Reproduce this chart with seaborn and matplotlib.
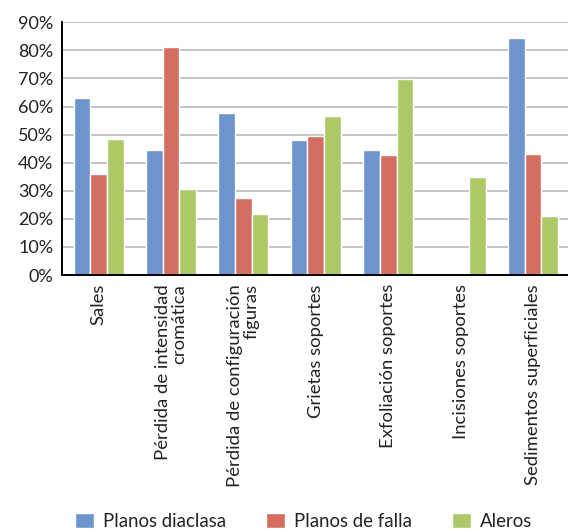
import matplotlib
matplotlib.use("Agg")
import matplotlib.pyplot as plt
import matplotlib.ticker as mticker
import numpy as np
import pandas as pd
import seaborn as sns

categories = [
    "Sales",
    "Pérdida de intensidad\ncromática",
    "Pérdida de configuración\nfiguras",
    "Grietas soportes",
    "Exfoliación soportes",
    "Incisiones soportes",
    "Sedimentos superficiales",
]
series = ["Planos diaclasa", "Planos de falla", "Aleros"]
planos_diaclasa = [0.63, 0.445, 0.576, 0.481, 0.445, 0.0, 0.844]
planos_de_falla = [0.36, 0.811, 0.273, 0.495, 0.427, 0.0, 0.431]
aleros = [0.484, 0.305, 0.217, 0.566, 0.697, 0.349, 0.21]
colors = ["#6D94CD", "#D46E60", "#ADC867"]

df = pd.DataFrame({
    "categoria": categories * 3,
    "serie": np.repeat(series, len(categories)),
    "valor": planos_diaclasa + planos_de_falla + aleros,
})

sns.set_style("white")
plt.rcParams["font.family"] = ["Lato", "DejaVu Sans"]

fig = plt.figure(figsize=(5.68, 5.30), dpi=100)
ax = fig.add_axes([0.110, 0.481, 0.892, 0.477])

sns.barplot(data=df, x="categoria", y="valor", hue="serie", order=categories,
            hue_order=series, palette=colors, saturation=1, width=0.69,
            errorbar=None, ax=ax, legend=True)

ax.set_xlim(-0.5, len(categories) - 0.5)
ax.set_ylim(0, 0.9)
ax.yaxis.set_major_locator(mticker.MultipleLocator(0.1))
ax.yaxis.set_major_formatter(mticker.PercentFormatter(1.0, decimals=0))
ax.grid(axis="y", color="#C4C4C4", linewidth=1.4)
ax.set_axisbelow(True)

ax.set_xlabel("")
ax.set_ylabel("")
ax.set_xticks(range(len(categories)))
ax.set_xticklabels(categories, rotation=90, ha="center", va="top",
                   multialignment="right", fontsize=13.3, color="#222222",
                   linespacing=1.0)
ax.set_xticks(np.arange(-0.5, len(categories)), minor=True)
ax.tick_params(axis="x", which="major", length=0, pad=6.5)
ax.tick_params(axis="x", which="minor", length=7, width=1.2, direction="out",
               color="black")
ax.tick_params(axis="y", length=5, width=1.2, direction="out", color="black",
               labelsize=13, labelcolor="#222222", pad=1.5)

for side in ["top", "right"]:
    ax.spines[side].set_visible(False)
for side in ["left", "bottom"]:
    ax.spines[side].set_color("black")
    ax.spines[side].set_linewidth(1.4)

handles, labels = ax.get_legend_handles_labels()
ax.get_legend().remove()
fig.legend(handles, labels, loc="center", bbox_to_anchor=(0.535, 0.016),
           ncol=3, frameon=False, fontsize=13.4, handlelength=1.0,
           handleheight=0.9, handletextpad=0.5, columnspacing=2.15,
           labelcolor="#222222")

fig.savefig("out.png", dpi=100)
